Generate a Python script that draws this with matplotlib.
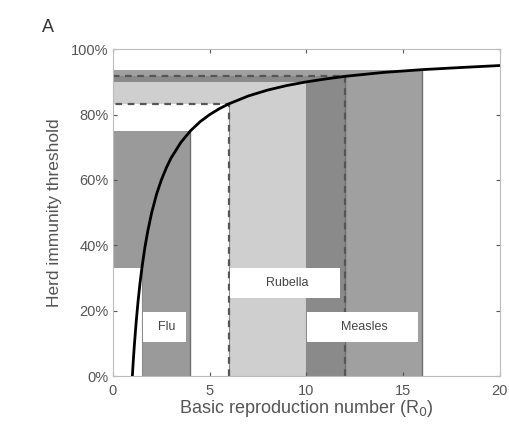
import matplotlib.pyplot as plt
from matplotlib.patches import Polygon, Rectangle

plt.rcParams['font.family'] = ['Liberation Sans', 'DejaVu Sans']

# herd immunity threshold curve
r0_curve = [1, 1.05, 1.1, 1.2, 1.3, 1.4, 1.5, 1.65, 1.8, 2, 2.25, 2.5, 2.75, 3, 3.5,
            4, 4.5, 5, 5.5, 6, 7, 8, 9, 10, 11, 12, 14, 16, 18, 20]
hit_curve = [0, 4.8, 9.1, 16.7, 23.1, 28.6, 33.3, 39.4, 44.4, 50, 55.6, 60, 63.6, 66.7, 71.4,
             75, 77.8, 80, 81.8, 83.3, 85.7, 87.5, 88.9, 90, 90.9, 91.7, 92.9, 93.75, 94.4, 95]

# diseases: R0 range and threshold range (%)
diseases = ['Flu', 'Rubella', 'Measles']
r0_low = [1.5, 6, 10]
r0_high = [4, 12, 16]
hit_low = [33, 83.3, 90]
hit_high = [75, 91.7, 93.75]
label_y = [15, 28.5, 15]

# dashed markers
dash_r0 = [6, 12]
dash_hit = [83.3, 91.7]

fill_cols = ['#9a9a9a', '#cfcfcf', '#505050']
fill_alpha = [1, 1, 0.54]

fig = plt.figure(figsize=(5.09, 4.24), dpi=100)
ax = fig.add_axes([0.222, 0.113, 0.76, 0.771])

for i in range(len(diseases)):
    lo, hi, tl, th = r0_low[i], r0_high[i], hit_low[i], hit_high[i]
    # L shape: vertical band from 0 up, horizontal band from axis
    pts = [(lo, 0), (hi, 0), (hi, th), (0, th), (0, tl), (lo, tl)]
    ax.add_patch(Polygon(pts, closed=True, facecolor=fill_cols[i], alpha=fill_alpha[i],
                         edgecolor='none', zorder=1))
    ax.plot([hi, hi], [0, th], color='#6f6f6f', lw=1, zorder=1.5)
    ax.plot([lo, lo], [0, tl], color='#8a8a8a', lw=0.8, zorder=1.5)

for r, h in zip(dash_r0, dash_hit):
    ax.plot([r, r, 0], [0, h, h], color='#555555', lw=1.6, ls=(0, (3, 2.5)), zorder=2)

for i in range(len(diseases)):
    w = r0_high[i] - r0_low[i]
    ax.add_patch(Rectangle((r0_low[i] + 0.05, label_y[i] - 4.7), w - 0.3, 9.4,
                           facecolor='white', edgecolor='none', zorder=3))
    ax.text(r0_low[i] + w / 2, label_y[i], diseases[i], ha='center', va='center',
            fontsize=9, color='#444444', zorder=4)

ax.plot(r0_curve, hit_curve, color='black', lw=2, zorder=5)

ax.set_xlim(0, 20)
ax.set_ylim(0, 100)
ax.set_xticks([0, 5, 10, 15, 20])
ax.set_yticks([0, 20, 40, 60, 80, 100])
ax.set_yticklabels(['0%', '20%', '40%', '60%', '80%', '100%'])
ax.tick_params(direction='in', length=3, labelsize=10.5, colors='#555555',
               top=True, right=True)
ax.tick_params(axis='x', pad=6)
ax.tick_params(axis='y', pad=3)
for s in ax.spines.values():
    s.set_color('#bbbbbb')
    s.set_zorder(6)

ax.set_xlabel('Basic reproduction number (R$_\\mathrm{0}$)', fontsize=13, color='#555555', labelpad=0)
ax.set_ylabel('Herd immunity threshold', fontsize=12.5, color='#555555', labelpad=7)
fig.text(0.094, 0.935, 'A', fontsize=13, color='#333333', ha='center', va='center')

fig.savefig('out.png', dpi=100)
